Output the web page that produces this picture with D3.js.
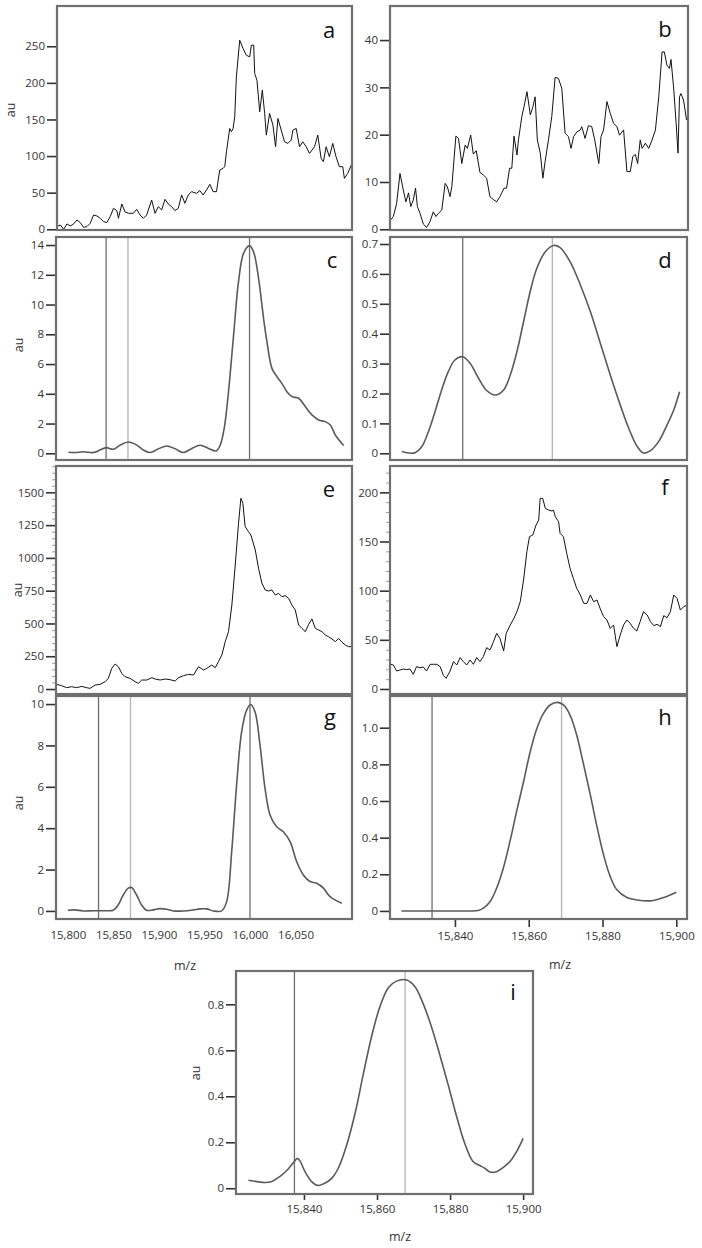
<!DOCTYPE html>
<html>
<head>
<meta charset="utf-8">
<script src="https://cdn.jsdelivr.net/npm/d3@7"></script>
<style>
html,body{margin:0;padding:0;background:#fff;}
svg{display:block;}
text{font-family:"Open Sans","DejaVu Sans",sans-serif;}
</style>
</head>
<body>
<svg id="chart" width="702" height="1248"></svg>
<script>
// ---------------- DATA ----------------
// Panel a (raw spectrum)
const aMz = [15787,15790.7,15794.3,15798,15801.6,15805.3,15809,15812.6,15816.3,15819.9,15823.6,15827.3,15830.9,15834.6,15838.2,15841.9,15845.6,15849.2,15852.9,15854.7,15858.4,15862,15865.7,15871.2,15874.8,15878.5,15882.2,15885.8,15891.3,15895,15898.6,15902.3,15906,15909.6,15913.3,15916.9,15920.6,15924.3,15927.9,15931.6,15935.2,15940.7,15944.4,15948,15951.7,15955.4,15959,15962.7,15966.3,15970,15971.8,15973.7,15977.3,15979.2,15981,15982.8,15984.6,15988.3,15992,15995.6,15999.3,16001.1,16003.7,16004.8,16007.3,16010.3,16013.2,16015.8,16017.6,16021.2,16024.9,16027.8,16030.4,16034,16037.7,16041.4,16045,16046.9,16050.5,16054.2,16057.8,16061.5,16065.2,16070.7,16074.3,16078,16080.5,16083.5,16087.1,16090.8,16094.4,16098.1,16101.8,16103.6,16107.3,16112];
const aAu = [3.6,5.9,0,7.3,4.5,7.3,12.7,9.1,2.7,3.6,8.2,19.5,18.2,15,10.5,9.1,17.3,28.6,25.5,15,34.5,23.6,21.8,21.8,27.3,19.5,15,19.5,40,21.8,30.9,26.4,40.9,34.5,30.9,25.5,28.6,46.8,35.5,46.8,51.4,49.1,52.7,46.8,53.6,61.4,51.4,51.4,80.9,83.2,85.5,105.9,137.7,133.2,137.7,153.6,208.2,258.2,246.8,237.7,235.5,251.4,251.4,212.7,203.6,160.5,190,158.2,128.6,158.2,142.3,112.7,151.4,135.5,119.5,117.3,121.8,135.5,137.7,112.7,119.5,112.7,103.6,112.7,128.6,96.8,92.3,112.7,99.1,117.3,99.1,85.5,85.5,69.5,76.4,90];

// Panel b (raw spectrum)
const bMz = [15822.6,15823.3,15824.2,15825.1,15826,15826.7,15827.4,15828,15828.7,15829.3,15829.8,15830.5,15831.4,15832.3,15833.2,15834.1,15834.8,15835.5,15836.4,15837.3,15837.9,15838.6,15839.1,15840.2,15840.9,15841.8,15842.7,15843.3,15844.2,15844.9,15845.7,15846.7,15847.6,15848.5,15849.4,15850.3,15851.2,15852.1,15853.2,15853.9,15854.7,15855.3,15855.9,15856.7,15857.1,15858,15858.6,15859.4,15860.3,15861,15861.6,15862.2,15863,15863.7,15864.3,15865.2,15866.1,15867,15867.9,15868.8,15869.7,15870.6,15871.3,15872,15872.9,15873.8,15874.2,15875.1,15876,15876.9,15877.7,15878.8,15879.4,15880.1,15881,15881.9,15882.8,15883.7,15884.4,15885.5,15886.4,15887.3,15888,15888.7,15889.3,15890,15890.5,15891.4,15892.3,15893.2,15894.1,15895,15895.9,15896.5,15897.2,15897.9,15898.3,15899,15899.7,15900.2,15900.6,15901,15901.7,15902.5];
const bAu = [2.0,2.7,5.5,11.8,8.3,5.8,7.7,4.8,6.2,8.7,4.8,3.4,1.1,0.4,1.6,3.7,2.7,3.4,4.1,9.7,9.0,6.9,9.0,19.7,19.2,13.9,17.8,17.1,19.9,15.9,16.6,12.0,11.5,10.8,6.9,6.3,5.8,6.9,8.7,8.7,12.9,12.9,19.7,15.7,18.9,23.8,25.9,29.1,24.2,25.9,28.0,18.9,16.1,10.8,14.3,18.9,23.8,32.1,31.9,29.8,20.3,19.6,17.1,19.6,20.6,21.0,21.7,19.2,21.9,21.7,18.9,13.9,19.6,21.0,27.0,24.5,22.4,21.7,19.9,21.0,12.2,12.2,15.4,15.8,13.9,18.9,17.1,18.2,17.1,18.9,21.0,28.0,37.5,37.5,34.7,34.0,35.9,30.1,22.4,16.1,28.0,28.7,27.3,23.1];

// Panel c (processed)
const cMz = [15800.6,15807.9,15817,15828,15835.4,15842,15850,15857.3,15866.5,15875.7,15883,15890.3,15899.5,15908.6,15917.8,15927,15936.1,15945.3,15954.4,15962.9,15967.3,15971.7,15976.4,15982,15987.4,15992.9,15999.5,16003.9,16009.4,16014.9,16018.6,16024.1,16029.6,16035,16040.5,16046,16053.4,16060.7,16068,16075.4,16082.7,16088.2,16093.7,16102.8];
const cAu = [0.07,0.05,0.1,0.05,0.22,0.38,0.27,0.55,0.76,0.55,0.22,0.05,0.3,0.49,0.3,0.05,0.33,0.54,0.33,0.16,0.55,1.68,4.14,7.95,11.54,13.44,13.96,13.55,11.76,9.07,7.5,5.71,5.15,4.7,4.14,3.81,3.7,3.14,2.58,2.24,2.13,1.9,1.23,0.52];
const cMarks = [15842, 15866, 15999.5];

// Panel d (processed)
const dMz = [15825.6,15827.4,15829.2,15831,15832.8,15834.6,15836.4,15838.2,15840,15842.1,15844.1,15846.4,15848.6,15850.9,15853.2,15855,15856.8,15858.6,15860.4,15862.2,15864.5,15866.7,15868.5,15871.2,15874,15876.7,15879.4,15882.1,15884.8,15887.1,15889.3,15891.1,15892.9,15895.2,15897.5,15899.3,15900.9];
const dAu = [0.006,0.001,0.002,0.022,0.072,0.139,0.212,0.273,0.312,0.323,0.301,0.251,0.21,0.195,0.212,0.262,0.34,0.44,0.541,0.619,0.674,0.695,0.688,0.641,0.563,0.474,0.368,0.262,0.162,0.084,0.025,0.001,0.008,0.039,0.095,0.145,0.206];
const dMarks = [15842.1, 15866.4];

// Panel e (raw spectrum)
const eMz = [15787.7,15793.2,15798.7,15804.2,15809.7,15815.2,15820.7,15824.4,15829.9,15835.4,15840.9,15844.5,15848.2,15851.9,15855.5,15859.2,15862.8,15868.3,15873.8,15877.5,15881.2,15886.7,15892.2,15895.8,15901.3,15906.8,15912.3,15917.8,15921.5,15927,15932.5,15938,15943.5,15949,15952.6,15958.1,15961.8,15965.4,15969.1,15972.8,15976.4,15980.1,15983.8,15987.4,15990,15992.2,15994.7,15998.4,16001,16005.8,16009.4,16013.1,16016.7,16020.4,16024.1,16027.7,16031.4,16035,16038.7,16042.4,16046,16049.7,16053.4,16057,16060.7,16064.4,16068,16071.7,16075.4,16079,16082.7,16086.3,16090,16093.7,16097.3,16101,16104.7,16108.3,16112];
const eAu = [35.6,25.4,10.2,17.8,10.2,20.3,10.2,5.1,30.5,35.6,55.9,81.4,157.6,190.7,170.4,119.5,94.1,81.4,55.9,43.2,68.6,68.6,86.4,76.3,68.6,76.3,71.2,61,86.4,101.7,111.9,106.8,170.4,144.9,157.6,183.1,162.7,208.5,259.3,361,437.3,640.7,945.8,1263.7,1454.4,1416.2,1238.2,1200.1,1174.7,1060.3,920.4,806,755.2,747.5,755.2,717,729.7,704.3,711.9,691.6,640.7,602.6,488.2,462.8,437.3,493.3,534,462.8,450,437.3,411.9,399.2,381.4,361,386.5,356,335.6,322.9,322.9];

// Panel f (raw spectrum)
const fMz = [15822.6,15823.3,15824.2,15825.1,15826,15826.9,15827.8,15828.7,15829.6,15830.5,15831.4,15832.3,15833.3,15834.2,15835.1,15836,15836.9,15837.6,15838.7,15839.6,15840.5,15841.4,15842.3,15843.2,15844.1,15845,15845.9,15846.8,15847.7,15848.6,15849.5,15850.4,15851.3,15852.2,15853.2,15853.9,15855,15855.9,15856.8,15857.7,15858.6,15859.5,15860.2,15861.1,15862,15862.7,15863.1,15863.8,15864.5,15865.4,15866.3,15866.7,15867.2,15868.1,15868.5,15869.4,15870.3,15871.2,15872.1,15873,15874,15874.9,15875.8,15876.7,15877.6,15878.5,15879.4,15880.3,15881.2,15882.1,15883,15883.9,15884.8,15885.7,15886.6,15887.5,15888.4,15889.3,15890.2,15891.1,15892.1,15893,15893.9,15894.8,15895.7,15896.6,15897.5,15898.4,15899.3,15900.2,15901.1,15902,15902.9];
const fAu = [25.1,24.4,18.3,19.3,20.3,19.7,20.3,14.9,22.7,21.7,22.4,18.3,25.1,25.1,25.1,22.7,13.6,10.8,18.3,27.8,24.4,31.9,27.8,24.4,29.5,25.1,31.9,27.8,32.9,42,39.7,47.5,56.6,51.5,38.6,56.6,65.1,71.2,78.6,88.8,110.8,139.7,154.9,156.6,166.8,171.9,193.9,193.9,183.7,182,181,182,175.3,170.2,158.3,154.9,138,122.7,112.5,102.4,95.6,87.1,87.1,95.6,88.8,90.5,81.4,73.6,70.2,61.7,65.1,43.1,54.9,65.1,70.2,66.8,61.7,59,68.5,78.6,75.3,68.5,64.4,65.8,63.4,74.6,72.5,78.6,95.6,92.2,80.3,83.7,85.4];

// Panel g (processed)
const gMz = [15800,15807.7,15816.8,15827.8,15835.2,15842.5,15849.8,15855.3,15860.8,15866.3,15870,15875.5,15881,15886.4,15893.8,15901.1,15908.4,15915.8,15926.7,15937.7,15945.1,15952.4,15959.7,15968.9,15974.4,15979.9,15985.3,15990.8,15996.3,16000.7,16005.5,16011,16016.5,16022,16029.3,16036.6,16044,16051.3,16058.6,16065.9,16073.3,16080.6,16087.9,16100.7];
const gAu = [0.03,0.05,0,0.01,0.01,0.01,0.03,0.29,0.77,1.1,1.13,0.77,0.29,0.03,0.05,0.11,0.08,0,0,0.05,0.1,0.1,0,0,0.45,2.87,6.09,8.66,9.71,9.98,9.63,8.02,5.93,4.64,4.07,3.83,3.35,2.38,1.74,1.42,1.34,1.1,0.69,0.37];
const gMarks = [15833.7, 15868.8, 16000];

// Panel h (processed)
const hMz = [15825.5,15829.6,15834.1,15838.6,15843.2,15846.3,15847.7,15849.5,15851.3,15853.1,15854.9,15856.7,15858.6,15860.4,15862.2,15864,15865.8,15867.8,15869.4,15871.2,15873,15874.8,15876.7,15878.5,15880.3,15882.1,15883.9,15886.6,15889.3,15893.4,15896.6,15900];
const hAu = [0,0,0,0,0,0.002,0.015,0.05,0.124,0.233,0.378,0.542,0.705,0.869,0.996,1.078,1.124,1.138,1.124,1.069,0.96,0.805,0.633,0.46,0.305,0.187,0.115,0.073,0.06,0.056,0.073,0.102];
const hMarks = [15833.8, 15868.9];

// Panel i (processed)
const iMz = [15824.8,15827.1,15829.3,15831.2,15833.4,15835.7,15837.5,15838.2,15838.9,15840.3,15842.1,15843.9,15845.7,15847.6,15849.4,15851.7,15854,15856.2,15858.5,15860.8,15863.1,15865.3,15868.1,15870.4,15872.6,15874.9,15877.2,15879.5,15881.8,15884,15886.3,15888.1,15889.5,15890.9,15892.7,15894.5,15896.4,15898.2,15900];
const iAu = [0.035,0.029,0.025,0.029,0.051,0.084,0.119,0.13,0.119,0.072,0.029,0.012,0.022,0.043,0.087,0.188,0.326,0.493,0.659,0.79,0.872,0.901,0.906,0.877,0.804,0.703,0.58,0.449,0.312,0.196,0.116,0.099,0.087,0.071,0.072,0.09,0.116,0.159,0.217];
const iMarks = [15837.4, 15867.7];

// Tick values
const aTicks = [0,50,100,150,200,250];
const bTicks = [0,10,20,30,40];
const cTicks = [0,2,4,6,8,10,12,14];
const dTicks = [0,0.1,0.2,0.3,0.4,0.5,0.6,0.7];
const eTicks = [0,250,500,750,1000,1250,1500];
const fTicks = [0,50,100,150,200];
const gTicks = [0,2,4,6,8,10];
const hTicks = [0,0.2,0.4,0.6,0.8,1.0];
const iTicks = [0,0.2,0.4,0.6,0.8];
const wideXTicks = [15800,15850,15900,15950,16000,16050];
const narrowXTicks = [15840,15860,15880,15900];
const letters = ["a","b","c","d","e","f","g","h","i"];

// ---------------- LAYOUT ----------------
const wideDom = [15787, 16112];
const narrowDom = [15822.4, 15902.9];
const fmtInt = d => String(d);
const fmtDec = d => d === 0 ? "0" : d3.format(".1f")(d);

const panels = [
  {l:letters[0], box:[57,6,352,230], xd:wideDom, yd:[-1,305], yt:aTicks, mz:aMz, v:aAu, kind:"raw", yf:fmtInt, au:[12,110], lp:[329,38]},
  {l:letters[1], box:[390,6,688,230], xd:narrowDom, yd:[-0.15,47.2], yt:bTicks, mz:bMz, v:bAu, kind:"raw", yf:fmtInt, lp:[665,37]},
  {l:letters[2], box:[56,237,352,460], xd:wideDom, yd:[-0.45,14.54], yt:cTicks, mz:cMz, v:cAu, kind:"proc", marks:cMarks, yf:fmtInt, au:[20,345], lp:[332,268]},
  {l:letters[3], box:[390,237,687,460], xd:narrowDom, yd:[-0.0224,0.7234], yt:dTicks, mz:dMz, v:dAu, kind:"proc", marks:dMarks, yf:fmtDec, lp:[665,268]},
  {l:letters[4], box:[56,466,352,694], xd:wideDom, yd:[-38,1701], yt:eTicks, mz:eMz, v:eAu, kind:"raw", yf:fmtInt, au:[19,590], lp:[329,497], minor:50},
  {l:letters[5], box:[390,466,687,694], xd:narrowDom, yd:[-5.1,226.8], yt:fTicks, mz:fMz, v:fAu, kind:"raw", yf:fmtInt, lp:[665,495], minor:10},
  {l:letters[6], box:[56,696,352,919], xd:wideDom, yd:[-0.39,10.39], yt:gTicks, mz:gMz, v:gAu, kind:"proc", marks:gMarks, yf:fmtInt, au:[20,803], lp:[330,725], xt:wideXTicks, xtick:0, mzLab:[185,967]},
  {l:letters[7], box:[390,696,687,919], xd:narrowDom, yd:[-0.044,1.173], yt:hTicks, mz:hMz, v:hAu, kind:"proc", marks:hMarks, yf:fmtDec, lp:[665,725], xt:narrowXTicks, xtick:7, mzLab:[560,966]},
  {l:letters[8], box:[236,971,533,1194], xd:[15821.4,15902.7], yd:[-0.025,0.945], yt:iTicks, mz:iMz, v:iAu, kind:"proc", marks:iMarks, yf:fmtDec, au:[197,1073], lp:[513,1000], xt:narrowXTicks, xtick:5, mzLab:[400,1238]}
];

const svg = d3.select("#chart");
const defs = svg.append("defs");

panels.forEach((p, k) => {
  const [x0,y0,x1,y1] = p.box;
  const x = d3.scaleLinear().domain(p.xd).range([x0,x1]);
  const y = d3.scaleLinear().domain(p.yd).range([y1,y0]);
  const g = svg.append("g").attr("class","panel-"+p.l);

  const cid = "clip"+k;
  defs.append("clipPath").attr("id",cid).append("rect")
    .attr("x",x0).attr("y",y0).attr("width",x1-x0).attr("height",y1-y0);

  // minor ticks
  if (p.minor) {
    const minorVals = d3.range(0, p.yd[1], p.minor).filter(v => !p.yt.includes(v));
    g.append("g").attr("transform",`translate(${x0-1},0)`)
      .call(d3.axisLeft(y).tickValues(minorVals).tickSize(3).tickFormat(""))
      .call(s => s.select(".domain").remove())
      .call(s => s.selectAll("line").attr("stroke","#888").attr("stroke-width",0.8));
  }

  // y axis
  g.append("g").attr("transform",`translate(${x0-1},0)`)
    .call(d3.axisLeft(y).tickValues(p.yt).tickSize(9).tickPadding(2).tickFormat(p.yf))
    .call(s => s.select(".domain").remove())
    .call(s => s.selectAll("line").attr("stroke","#333").attr("stroke-width",1.6))
    .call(s => s.selectAll("text").attr("fill","#333").style("font-size","11.5px").style("font-family","'Open Sans','DejaVu Sans',sans-serif"));

  // x axis
  if (p.xt) {
    g.append("g").attr("transform",`translate(0,${y1+1})`)
      .call(d3.axisBottom(x).tickValues(p.xt).tickSize(p.xtick).tickPadding(p.xtick ? 5 : 11).tickFormat(d3.format(",")))
      .call(s => s.select(".domain").remove())
      .call(s => s.selectAll("line").attr("stroke","#333").attr("stroke-width",1.6))
      .call(s => s.selectAll("text").attr("fill","#333").style("font-size","11.5px").style("font-family","'Open Sans','DejaVu Sans',sans-serif"));
    g.append("text").attr("x",p.mzLab[0]).attr("y",p.mzLab[1]).attr("text-anchor","middle")
      .attr("dominant-baseline","middle").attr("fill","#333").style("font-size","12.5px").text("m/z");
  }

  const plot = g.append("g").attr("clip-path",`url(#${cid})`);

  // marker lines
  if (p.marks) {
    plot.selectAll("line.mark").data(p.marks).join("line").attr("class","mark")
      .attr("x1",d=>x(d)).attr("x2",d=>x(d)).attr("y1",y0).attr("y2",y1)
      .attr("stroke",(d,j)=> j===1 ? "#b4b4b4" : "#6e6e6e").attr("stroke-width",1.3);
  }

  // series line
  const pts = p.mz.map((m,j)=>[m,p.v[j]]);
  const line = d3.line().x(d=>x(d[0])).y(d=>y(d[1]))
    .curve(p.kind==="raw" ? d3.curveLinear : d3.curveCatmullRom.alpha(0.5));
  plot.append("path").datum(pts).attr("d",line).attr("fill","none")
    .attr("stroke", p.kind==="raw" ? "#111" : "#5a5a5a")
    .attr("stroke-width", p.kind==="raw" ? 1 : 1.6)
    .attr("stroke-linejoin","round");

  // frame
  g.append("rect").attr("x",x0).attr("y",y0).attr("width",x1-x0).attr("height",y1-y0)
    .attr("fill","none").attr("stroke","#6f6f6f").attr("stroke-width",2.2);

  // panel letter
  g.append("text").attr("x",p.lp[0]).attr("y",p.lp[1]).attr("text-anchor","middle")
    .attr("fill","#111").style("font-size","22px").text(p.l);

  // au label
  if (p.au) {
    g.append("text").attr("transform",`translate(${p.au[0]},${p.au[1]}) rotate(-90)`)
      .attr("text-anchor","middle").attr("dominant-baseline","middle")
      .attr("fill","#333").style("font-size","12.5px").text("au");
  }
});
</script>
</body>
</html>
